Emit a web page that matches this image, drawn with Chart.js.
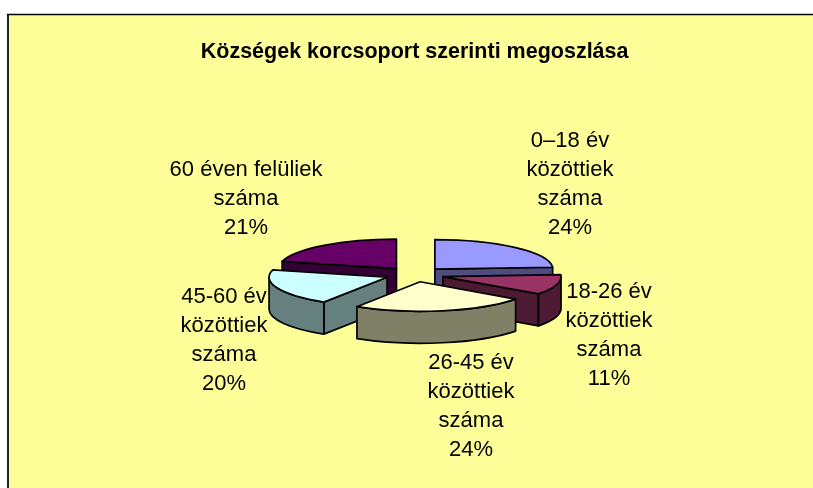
<!DOCTYPE html>
<html>
<head>
<meta charset="utf-8">
<title>Községek korcsoport szerinti megoszlása</title>
<script src="https://cdn.jsdelivr.net/npm/chart.js@4/dist/chart.umd.min.js"></script>
<style>
    html, body { margin: 0; padding: 0; background: #fff; overflow: hidden; }
    #wrap { width: 813px; height: 488px; }
</style>
</head>
<body>
<div id="wrap"><canvas id="pie-chart" width="813" height="488"></canvas></div>
<script>
// --- Data ---
const chartTitle = 'Községek korcsoport szerinti megoszlása';
const categories = [
    ['0–18 év', 'közöttiek', 'száma'],
    ['18-26 év', 'közöttiek', 'száma'],
    ['26-45 év', 'közöttiek', 'száma'],
    ['45-60 év', 'közöttiek', 'száma'],
    ['60 éven felüliek', 'száma']
];
const shares = [24, 11, 24, 20, 21];

// --- Style ---
const topColors = ['#9999FF', '#993366', '#FFFFCC', '#CCFFFF', '#660066'];
const wallColors = ['#4D4D80', '#4D1A33', '#808066', '#668080', '#330033'];
const plotBg = '#FFFF99';
const tilt = 0.25;
const depth = 32;
const labelFont = '22px "Liberation Sans", Arial, sans-serif';
const labelLineHeight = 29;
// center x and first baseline of each label block
const labelPlaces = [[570, 147], [609, 298], [471, 369], [224, 303], [246, 176]];

// Draws the squashed pie with side walls, reading geometry from the arc elements
function drawSlice(ctx, arc, i) {
    const { x, y, startAngle, endAngle, outerRadius } = arc.getProps(['x', 'y', 'startAngle', 'endAngle', 'outerRadius'], true);
    const mid = (startAngle + endAngle) / 2;
    const cx = x + Math.cos(mid) * arc.options.offset;
    const cy = y + Math.sin(mid) * arc.options.offset * tilt;
    const rx = outerRadius;
    const ry = outerRadius * tilt;
    const px = a => cx + Math.cos(a) * rx;
    const py = a => cy + Math.sin(a) * ry;

    ctx.lineWidth = 1.7;
    ctx.strokeStyle = '#000';
    ctx.lineJoin = 'round';

    const radialWall = a => {
        ctx.beginPath();
        ctx.moveTo(cx, cy);
        ctx.lineTo(px(a), py(a));
        ctx.lineTo(px(a), py(a) + depth);
        ctx.lineTo(cx, cy + depth);
        ctx.closePath();
        ctx.fillStyle = wallColors[i];
        ctx.fill();
        ctx.stroke();
    };

    // cut faces that look at the viewer
    if (Math.cos(startAngle) < -0.001) radialWall(startAngle);
    if (Math.cos(endAngle) > 0.001) radialWall(endAngle);

    // rim, only the front half of the ellipse
    const lo = Math.max(startAngle, 0);
    const hi = Math.min(endAngle, Math.PI);
    if (hi > lo) {
        ctx.beginPath();
        ctx.ellipse(cx, cy, rx, ry, 0, lo, hi);
        ctx.lineTo(px(hi), py(hi) + depth);
        ctx.ellipse(cx, cy + depth, rx, ry, 0, hi, lo, true);
        ctx.closePath();
        ctx.fillStyle = wallColors[i];
        ctx.fill();
        ctx.stroke();
    }

    // top face
    ctx.beginPath();
    ctx.moveTo(cx, cy);
    ctx.ellipse(cx, cy, rx, ry, 0, startAngle, endAngle);
    ctx.closePath();
    ctx.fillStyle = topColors[i];
    ctx.fill();
    ctx.stroke();
}

const pie3d = {
    id: 'pie3d',
    beforeDraw(chart) {
        const { ctx, width, height } = chart;
        ctx.save();
        ctx.fillStyle = '#fff';
        ctx.fillRect(0, 0, width, height);
        ctx.fillStyle = plotBg;
        ctx.fillRect(8, 14, width - 8, height - 14);
        ctx.strokeStyle = '#222';
        ctx.lineWidth = 2;
        ctx.beginPath();
        ctx.moveTo(8, height);
        ctx.lineTo(8, 14.5);
        ctx.stroke();
        ctx.strokeStyle = '#000';
        ctx.lineWidth = 1.5;
        ctx.beginPath();
        ctx.moveTo(7, 14.5);
        ctx.lineTo(width, 14.5);
        ctx.stroke();
        ctx.restore();
    },
    beforeDatasetDraw(chart, args) {
        const ctx = chart.ctx;
        const arcs = args.meta.data;
        // back slices first
        const order = arcs.map((a, i) => i).sort((p, q) => {
            const mp = (arcs[p].startAngle + arcs[p].endAngle) / 2;
            const mq = (arcs[q].startAngle + arcs[q].endAngle) / 2;
            return Math.sin(mp) - Math.sin(mq);
        });
        ctx.save();
        order.forEach(i => drawSlice(ctx, arcs[i], i));
        ctx.restore();
        return false;
    },
    afterDatasetsDraw(chart) {
        const ctx = chart.ctx;
        ctx.save();
        ctx.font = labelFont;
        ctx.fillStyle = '#000';
        ctx.textAlign = 'center';
        ctx.textBaseline = 'alphabetic';
        categories.forEach((lines, i) => {
            const [lx, ly] = labelPlaces[i];
            lines.concat(shares[i] + '%').forEach((txt, n) => {
                ctx.fillText(txt, lx, ly + n * labelLineHeight);
            });
        });
        ctx.restore();
    }
};

new Chart(document.getElementById('pie-chart'), {
    type: 'pie',
    data: {
        labels: categories.map(c => c.join(' ')),
        datasets: [{
            data: shares,
            backgroundColor: topColors,
            borderColor: '#000',
            borderWidth: 1,
            offset: 29.6,
            radius: 118
        }]
    },
    options: {
        responsive: false,
        animation: false,
        layout: { padding: { left: 16.2, right: 0, top: 0, bottom: 13.8 } },
        plugins: {
            legend: { display: false },
            tooltip: { enabled: false },
            title: {
                display: true,
                text: chartTitle,
                color: '#000',
                font: { family: '"Liberation Sans", Arial, sans-serif', size: 21.5, weight: 'bold' },
                padding: { top: 39, bottom: 10 }
            }
        }
    },
    plugins: [pie3d]
});
</script>
</body>
</html>
